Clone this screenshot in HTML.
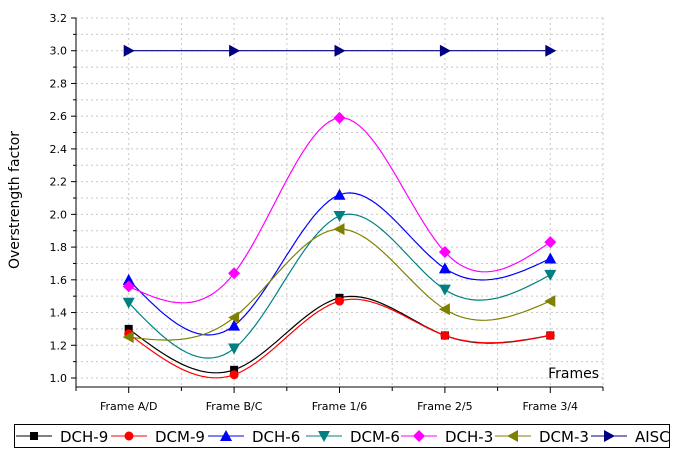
<!DOCTYPE html>
<html><head><meta charset="utf-8"><style>
body{margin:0;background:#fff;width:676px;height:458px;overflow:hidden}
text{font-family:"DejaVu Sans","Liberation Sans",sans-serif}
</style></head><body>
<svg id="c" width="676" height="458" xmlns="http://www.w3.org/2000/svg"></svg>
<script>
const categories=["Frame A/D","Frame B/C","Frame 1/6","Frame 2/5","Frame 3/4"];
const yTicks=[1.0,1.2,1.4,1.6,1.8,2.0,2.2,2.4,2.6,2.8,3.0,3.2];
const seriesNames=["DCH-9","DCM-9","DCH-6","DCM-6","DCH-3","DCM-3","AISC"];
const dch9=[1.30,1.05,1.49,1.26,1.26];
const dcm9=[1.27,1.02,1.47,1.26,1.26];
const dch6=[1.60,1.32,2.12,1.67,1.73];
const dcm6=[1.46,1.18,1.99,1.54,1.63];
const dch3=[1.56,1.64,2.59,1.77,1.83];
const dcm3=[1.25,1.37,1.91,1.42,1.47];
const aisc=[3.0,3.0,3.0,3.0,3.0];

const svg=document.getElementById('c');const NS='http://www.w3.org/2000/svg';
const X0=76,X1=603,Y0=387,YT=18;
const yS=v=>378-(v-1.0)*(360/2.2);
const xS=i=>X0+(i+0.5)*(X1-X0)/categories.length;
function mk(t,a,p){const e=document.createElementNS(NS,t);for(const k in a)e.setAttribute(k,a[k]);(p||svg).appendChild(e);return e;}
// grid
const g=mk('g',{});


for(let v=1.0;v<=3.21;v+=0.1){const y=yS(v);mk('line',{x1:X0,x2:X1,y1:y,y2:y,stroke:'#c8c8c8','stroke-dasharray':'2,3'},g);}
for(let i=0;i<=categories.length*2;i++){const x=X0+i*(X1-X0)/(categories.length*2);if(i>0)mk('line',{x1:x,x2:x,y1:YT,y2:Y0,stroke:'#c8c8c8','stroke-dasharray':'2,3'},g);}
// axes
const ax=mk('g',{});


mk('line',{x1:X0,x2:X0,y1:YT,y2:Y0,stroke:'#000'},ax);
mk('line',{x1:X0,x2:X1,y1:Y0,y2:Y0,stroke:'#000'},ax);
for(let v=1.0;v<=3.21;v+=0.1){const y=yS(v);const maj=Math.round(v*10)%2===0;mk('line',{x1:X0-(maj?5:3),x2:X0,y1:y,y2:y,stroke:'#000'},ax);}
yTicks.forEach(v=>{const t=mk('text',{x:X0-9,y:yS(v)+4,'text-anchor':'end','font-size':'11',fill:'#000'},ax);t.textContent=v.toFixed(1);

});
for(let i=0;i<=categories.length*2;i++){const x=X0+i*(X1-X0)/(categories.length*2);mk('line',{x1:x,x2:x,y1:Y0,y2:Y0+(i%2?6:4),stroke:'#000'},ax);}
categories.forEach((c,i)=>{const t=mk('text',{x:xS(i),y:410,'text-anchor':'middle','font-size':'11',fill:'#000'},ax);t.textContent=c;

});
let t=mk('text',{x:599,y:378,'text-anchor':'end','font-size':'14',fill:'#000'});t.textContent='Frames';


t=mk('text',{x:0,y:0,transform:'translate(19,200) rotate(-90)','text-anchor':'middle','font-size':'14',fill:'#000'});t.textContent='Overstrength factor';


// natural cubic spline
function spline(ys){const n=ys.length,h=1;const a=ys.slice(),M=new Array(n).fill(0);
 const c=[],d=[];for(let i=1;i<n-1;i++){d[i]=6*(ys[i+1]-2*ys[i]+ys[i-1]);}
 const cp=[],dp=[];cp[1]=1/4;dp[1]=d[1]/4;for(let i=2;i<n-1;i++){const m=4-cp[i-1];cp[i]=1/m;dp[i]=(d[i]-dp[i-1])/m;}
 for(let i=n-2;i>=1;i--){M[i]=dp[i]-(i<n-2?cp[i]*M[i+1]:0);}
 const pts=[];for(let i=0;i<n-1;i++)for(let s=0;s<=20;s++){const u=s/20;const A=1-u,B=u;
 const v=A*ys[i]+B*ys[i+1]+((A*A*A-A)*M[i]+(B*B*B-B)*M[i+1])/6;pts.push([xS(i+u),yS(v)]);}
 return pts;}
const colors=['#000000','#ff0000','#0000ff','#008080','#ff00ff','#808000','#000080'];
const data=[dch9,dcm9,dch6,dcm6,dch3,dcm3,aisc];
const shapes=['square','circle','up','down','diamond','left','right'];
function marker(sh,x,y,col,p){const s=5;let e;
 if(sh==='square')e=mk('rect',{x:x-4,y:y-4,width:8,height:8,fill:col},p);
 else if(sh==='circle')e=mk('circle',{cx:x,cy:y,r:4.5,fill:col},p);
 else{let pts;if(sh==='up')pts=[[x,y-s-1],[x+s+1,y+s],[x-s-1,y+s]];
 else if(sh==='down')pts=[[x,y+s+1],[x+s+1,y-s],[x-s-1,y-s]];
 else if(sh==='diamond')pts=[[x,y-s-1],[x+s+1,y],[x,y+s+1],[x-s-1,y]];
 else if(sh==='left')pts=[[x-s-1,y],[x+s,y-s-1],[x+s,y+s+1]];
 else pts=[[x+s+1,y],[x-s,y-s-1],[x-s,y+s+1]];
 e=mk('polygon',{points:pts.map(q=>q.join(',')).join(' '),fill:col},p);}
 return e;}
data.forEach((ys,k)=>{const sg=mk('g',{});
 
 
 const pts=k===6?ys.map((v,i)=>[xS(i),yS(v)]):spline(ys);
 mk('polyline',{points:pts.map(q=>q[0].toFixed(1)+','+q[1].toFixed(1)).join(' '),fill:'none',stroke:colors[k],'stroke-width':1.2},sg);
 ys.forEach((v,i)=>{const m=marker(shapes[k],xS(i),yS(v),colors[k],sg);
 
 });});
// legend
const lg=mk('g',{});


mk('rect',{x:14.5,y:424.5,width:655,height:23,fill:'#fff',stroke:'#000'},lg);
const lx=[16,111,208,306,401,495,591];
seriesNames.forEach((n,k)=>{const eg=mk('g',{},lg);
 
 
 const x=lx[k],y=436;mk('line',{x1:x,x2:x+36,y1:y,y2:y,stroke:colors[k]},eg);
 marker(shapes[k],x+18,y,colors[k],eg);
 const tt=mk('text',{x:x+44,y:y+6,'font-size':'15',fill:'#000'},eg);tt.textContent=n;});
</script>
</body></html>
